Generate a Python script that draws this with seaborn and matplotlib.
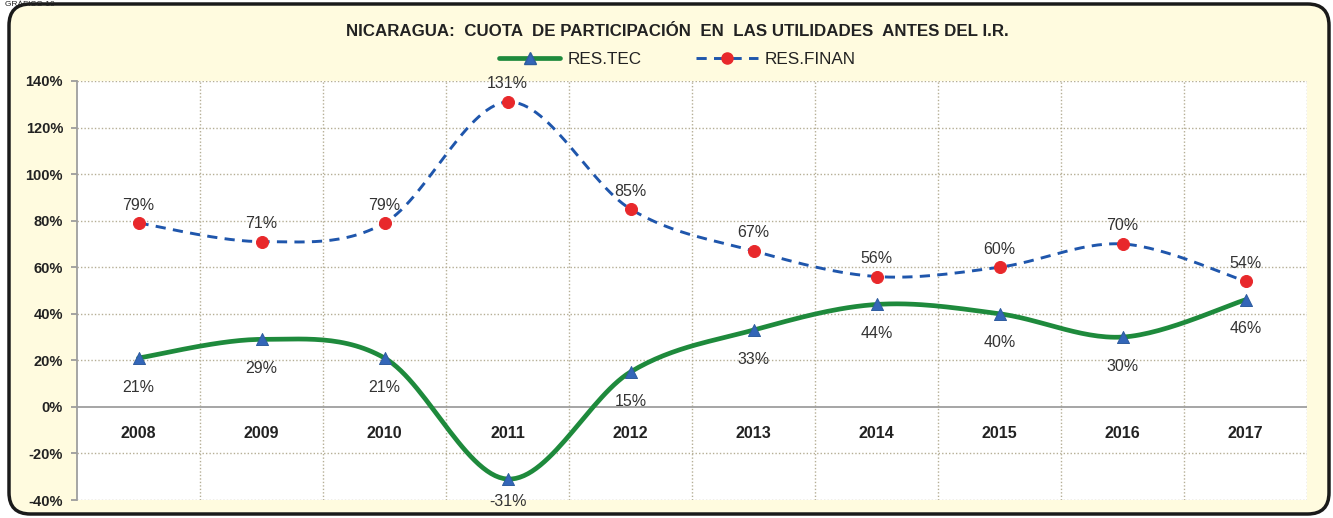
import numpy as np
import pandas as pd
import matplotlib
matplotlib.use("Agg")
import matplotlib.pyplot as plt
import seaborn as sns
from matplotlib.patches import FancyBboxPatch
from matplotlib.lines import Line2D

# datos del gráfico
years = ['2008', '2009', '2010', '2011', '2012', '2013', '2014', '2015', '2016', '2017']
res_tec = [21, 29, 21, -31, 15, 33, 44, 40, 30, 46]
res_finan = [79, 71, 79, 131, 85, 67, 56, 60, 70, 54]
yticks = [-40, -20, 0, 20, 40, 60, 80, 100, 120, 140]

sns.set_theme(style="white")
plt.rcParams['font.family'] = ['Liberation Sans', 'DejaVu Sans']


def suavizar(y, n=30):
    # curva suavizada tipo Excel (Catmull-Rom) solo para dibujar la línea
    y = np.asarray(y, dtype=float)
    x = np.arange(len(y), dtype=float)
    p = np.concatenate([[y[0]], y, [y[-1]]])
    px = np.concatenate([[x[0]], x, [x[-1]]])
    xs, ys = [], []
    for i in range(len(y) - 1):
        t = np.linspace(0, 1, n, endpoint=False)
        for arr, out in ((px, xs), (p, ys)):
            p0, p1, p2, p3 = arr[i], arr[i + 1], arr[i + 2], arr[i + 3]
            out.extend(0.5 * ((2 * p1) + (-p0 + p2) * t
                              + (2 * p0 - 5 * p1 + 4 * p2 - p3) * t ** 2
                              + (-p0 + 3 * p1 - 3 * p2 + p3) * t ** 3))
    xs.append(x[-1])
    ys.append(y[-1])
    return np.array(xs), np.array(ys)


fig = plt.figure(figsize=(13.33, 5.18), dpi=100)
fig.patch.set_facecolor('white')

# marco redondeado
marco = FancyBboxPatch((9 / 1333, 4 / 518), 1320 / 1333, 510 / 518,
                       boxstyle="round,pad=0,rounding_size=0.016",
                       transform=fig.transFigure, facecolor='#FFFBDF',
                       edgecolor='#1a1a1a', linewidth=2.5, mutation_aspect=1333 / 518,
                       zorder=-5)
fig.add_artist(marco)
fig.text(0.004, 1 - 0.5 / 518, 'GRÁFICO 10', fontsize=6, color='#222222', va='top')

ax = fig.add_axes([77 / 1333, 1 - 500 / 518, 1230 / 1333, 419 / 518])
ax.set_facecolor('white')

x = np.arange(len(years))
gx, gy = suavizar(res_tec)
fx, fy = suavizar(res_finan)
sns.lineplot(x=gx, y=gy, ax=ax, color='#1E8A3C', linewidth=3.4, sort=False)
sns.lineplot(x=fx, y=fy, ax=ax, color='#1F56AC', linewidth=2.1, linestyle=(0, (3.5, 2.5)), sort=False)
sns.scatterplot(x=x, y=res_tec, ax=ax, marker='^', s=75, color='#3366B8', edgecolor='#2E5C9E', zorder=5)
sns.scatterplot(x=x, y=res_finan, ax=ax, marker='o', s=75, color='#E8282B', edgecolor='#E8282B', zorder=5)

for i in range(len(years)):
    ax.text(x[i], res_finan[i] + 4.5, f'{res_finan[i]}%', ha='center', va='bottom',
            fontsize=11.5, color='#333333')
    # etiqueta debajo del punto, sin salir del área del gráfico
    ax.text(x[i], max(res_tec[i] - 9.3, -37.3), f'{res_tec[i]}%', ha='center', va='top',
            fontsize=11.5, color='#333333')
    ax.text(x[i], -11.5, years[i], ha='center', va='center', fontsize=11.5,
            fontweight='bold', color='#222222')

ax.set_xlim(-0.5, len(years) - 0.5)
ax.set_ylim(-40, 140)
ax.set_yticks(yticks)
ax.set_yticklabels([f'{v}%' for v in yticks], fontsize=10.5, fontweight='bold', color='#222222')
ax.set_xticks([])
ax.tick_params(axis='y', length=4, color='#999999', pad=6, left=True)

for v in yticks:
    if v != 0:
        ax.axhline(v, color='#B5AE95', linewidth=1, linestyle=(0, (1, 1.5)), zorder=0)
for b in np.arange(0.5, len(years) + 0.5, 1):
    ax.axvline(b, color='#B5AE95', linewidth=1, linestyle=(0, (1, 1.5)), zorder=0)
ax.axhline(0, color='#9E9E9E', linewidth=1.3, zorder=1)

for s in ['top', 'right', 'bottom']:
    ax.spines[s].set_visible(False)
ax.spines['left'].set_color('#9E9E9E')
ax.spines['left'].set_linewidth(1.3)

fig.text(0.508, 1 - 32 / 518, 'NICARAGUA:  CUOTA  DE PARTICIPACIÓN  EN  LAS UTILIDADES  ANTES DEL I.R.',
         ha='center', va='center', fontsize=12.2, fontweight='bold', color='#222222')

handles = [Line2D([], [], color='#1E8A3C', linewidth=3.4, marker='^', markersize=8,
                  markerfacecolor='#3366B8', markeredgecolor='#2E5C9E'),
           Line2D([], [], color='#1F56AC', linewidth=2.1, linestyle=(0, (3.5, 2.5)), marker='o',
                  markersize=8, markerfacecolor='#E8282B', markeredgecolor='#E8282B')]
fig.legend(handles, ['RES.TEC', 'RES.FINAN'], loc='center', bbox_to_anchor=(0.508, 1 - 59 / 518),
           ncol=2, frameon=False, fontsize=12.3, handlelength=3.6, columnspacing=3.2,
           handletextpad=0.4, labelcolor='#222222')

fig.savefig('out.png', dpi=100)
